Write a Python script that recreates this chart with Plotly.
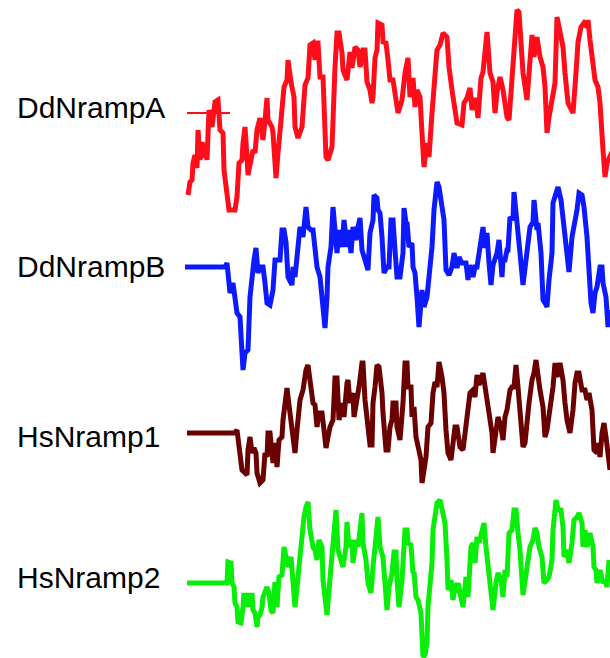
import plotly.graph_objects as go

# ---------------- data (residue position, hydropathy score) ----------------
names = ["DdNrampA", "DdNrampB", "HsNramp1", "HsNramp2"]

a_x = [1, 3, 5, 6, 8, 10, 11, 13, 15, 16, 18, 20, 22, 25, 28, 31, 33, 36, 37, 40, 42, 48, 50, 52, 55, 56, 58, 60, 61,
       64, 66, 68, 70, 73, 76, 78, 80, 81, 85, 86, 89, 91, 95, 97, 100, 101, 104, 107, 108, 111, 115, 118, 121, 123,
       126, 128, 130, 131, 133, 136, 139, 141, 145, 146, 148, 150, 152, 155, 156, 160, 161, 163, 165, 168, 171, 173,
       176, 178, 180, 183, 185, 186, 188, 190, 191, 195, 196, 199, 201, 203, 206, 208, 211, 215, 218, 221, 223, 226,
       228, 230, 233, 235, 237, 240, 242, 245, 247, 250, 253, 256, 260, 262, 265, 268, 270, 275, 277, 280, 283, 285,
       287, 289, 291, 294, 296, 300, 303, 306, 308, 310, 313, 316, 320, 322, 325, 328, 330, 332, 335, 336, 340, 342,
       345, 347, 350, 353, 356, 358, 360, 362, 365, 368, 370, 373, 376, 378, 381, 383, 386, 389, 391, 394, 397, 400,
       401, 403, 406, 408, 411, 413, 416, 418, 420, 423, 426]
a_y = [-8.2, -6.9, -6.7, -5.0, -4.2, -5.5, -1.7, -4.7, -2.9, -4.5, -3.0, -4.7, 0.3, -1.4, 1.1, 1.3, -1.7, -2.0, -5.7,
       -8.7, -9.7, -9.7, -8.4, -5.0, -4.7, -3.0, -1.4, -4.4, -6.2, -4.7, -3.7, -4.0, -1.7, -0.5, -2.7, -0.7, 1.5, -0.7,
       -1.4, -2.0, -6.5, -4.0, 0.3, 2.6, 3.3, 5.3, 3.1, 1.6, -1.4, -2.5, -1.4, 2.8, 3.5, 6.8, 7.0, 5.3, 7.0, 7.0, 3.6,
       3.6, -4.4, -4.7, -3.4, 0.3, 4.6, 8.0, 8.0, 6.0, 4.3, 3.3, 4.6, 6.1, 4.5, 6.6, 6.3, 4.6, 6.3, 6.3, 3.1, 2.3, 1.0,
       1.6, 5.5, 6.3, 9.0, 8.8, 7.1, 7.0, 5.3, 3.3, 3.3, 1.8, 0.0, 1.3, 4.0, 5.5, 1.6, 3.5, 0.6, 2.3, 1.6, -2.0, -5.4,
       -3.0, -4.4, 0.0, 2.6, 6.3, 6.8, 8.0, 7.6, 4.6, 2.3, 0.0, -1.0, -1.2, 1.0, 1.5, 2.5, 0.3, 1.3, 1.3, -0.5, 3.5,
       4.1, 8.1, 4.0, 3.1, 0.0, 2.1, 3.6, 2.3, -0.4, -0.7, 3.0, 7.0, 10.3, 10.1, 5.3, 4.0, 1.3, 4.6, 7.8, 5.6, 7.6, 5.6,
       4.6, 2.6, -2.0, -0.4, 1.6, 3.0, 9.6, 8.0, 6.6, 4.0, 1.0, 0.6, 0.0, 4.0, 7.1, 8.6, 9.0, 8.6, 9.3, 7.3, 4.6, 3.3,
       2.6, 1.0, -3.7, -6.4, -5.0, -4.4, -3.7]

b_x = [-2, 38, 40, 41, 43, 46, 48, 50, 53, 56, 58, 61, 63, 66, 67, 69, 71, 73, 76, 78, 80, 83, 86, 88, 90, 93, 95, 97,
       99, 101, 105, 106, 108, 111, 113, 116, 117, 119, 121, 124, 126, 128, 130, 133, 136, 138, 140, 141, 144, 146,
       148, 150, 152, 155, 157, 160, 161, 164, 166, 169, 171, 173, 175, 177, 179, 181, 183, 186, 187, 190, 191, 193,
       195, 197, 200, 202, 204, 206, 208, 210, 213, 216, 217, 219, 220, 222, 225, 226, 228, 230, 232, 235, 237, 240,
       242, 245, 247, 250, 252, 255, 257, 259, 262, 265, 267, 270, 272, 275, 279, 281, 283, 286, 288, 290, 293, 296,
       298, 300, 302, 304, 306, 308, 310, 312, 315, 316, 318, 320, 321, 323, 326, 327, 329, 331, 333, 336, 338, 340,
       343, 346, 347, 350, 351, 354, 356, 358, 360, 362, 365, 366, 369, 371, 374, 376, 378, 380, 382, 385, 387, 390,
       392, 395, 397, 400, 402, 404, 406, 408, 410, 413, 415, 416, 419, 421, 423]
b_y = [0.0, 0.0, 0.4, -1.0, -2.6, -1.6, -3.0, -4.6, -5.0, -10.3, -8.6, -8.3, -3.0, 0.4, 0.7, 1.9, -0.6, 0.0, 0.0,
       -1.6, -3.6, -3.8, -2.3, 0.7, 0.7, 0.7, 3.7, 3.7, 2.5, -1.0, -1.8, 0.0, -1.0, 2.7, 4.0, 3.0, 4.7, 6.0, 4.0, 3.7,
       3.7, 1.7, 0.0, -1.0, -4.0, -6.1, -3.0, 0.0, 2.0, 6.0, 3.7, 1.4, 3.7, 2.0, 4.7, 2.0, 3.7, 1.4, 4.0, 2.7, 4.0,
       4.9, 1.7, 1.0, 0.0, -0.3, 3.4, 4.7, 7.2, 6.9, 5.7, 5.4, 3.0, -0.6, 0.0, 0.0, 4.7, 4.7, 1.7, -1.0, -1.0, 1.4,
       5.9, 4.4, 4.5, 2.0, 2.4, 0.0, -0.6, -3.0, -6.0, -2.3, -4.0, -3.0, -1.0, 2.0, 5.7, 8.5, 8.0, 6.0, 4.7, -0.3,
       -0.8, 0.0, 1.4, -0.1, 1.0, 0.4, 0.4, -1.3, 0.2, -1.0, 0.0, 0.0, 2.0, 4.0, 1.9, 3.4, 0.4, -1.8, 0.2, 0.7, 1.4,
       2.7, -1.0, 0.7, 0.7, 1.7, 1.7, 5.0, 4.7, 7.5, 5.0, 3.5, 1.4, -1.8, 0.0, 1.4, 4.0, 4.5, 6.7, 3.7, 4.4, 1.4,
       -3.3, -3.6, -4.0, -1.3, 1.4, 6.4, 7.4, 8.0, 6.7, 4.7, 3.0, 0.4, -0.5, 3.0, 4.0, 5.7, 7.4, 7.2, 6.0, 3.0, -0.3,
       -3.6, -4.6, -2.6, -2.0, 0.0, 0.0, -1.6, -3.0, -6.0, -4.3]

c_x = [0, 48, 50, 53, 55, 57, 60, 61, 63, 65, 67, 69, 70, 73, 76, 78, 80, 81, 83, 85, 86, 88, 90, 92, 95, 96, 98, 100,
       101, 104, 106, 108, 110, 111, 113, 116, 117, 119, 121, 124, 126, 128, 130, 132, 135, 137, 139, 141, 143, 146,
       148, 150, 152, 155, 157, 160, 161, 163, 166, 167, 170, 172, 175, 176, 178, 180, 183, 185, 186, 188, 190, 192,
       195, 196, 199, 201, 203, 205, 206, 209, 210, 213, 215, 216, 218, 220, 221, 224, 225, 227, 229, 231, 234, 235,
       237, 239, 241, 244, 246, 248, 250, 252, 255, 257, 259, 261, 264, 266, 268, 270, 273, 276, 278, 280, 281, 283,
       286, 288, 290, 292, 296, 298, 300, 302, 305, 306, 309, 311, 314, 316, 318, 320, 323, 325, 327, 329, 331, 333,
       336, 338, 340, 342, 345, 347, 349, 351, 353, 356, 358, 360, 362, 366, 368, 370, 373, 376, 378, 380, 383, 386,
       388, 390, 392, 395, 398, 400, 402, 405, 407, 410, 411, 413, 415, 417, 419, 421, 423]
c_y = [0.0, 0.0, 0.3, -1.7, -3.7, -3.9, -4.2, -1.7, -0.4, -2.0, -1.5, -2.0, -4.0, -5.0, -4.7, -2.0, -2.4, 0.0, 0.0,
       -2.0, -3.0, -1.0, -3.4, -0.7, -0.4, 1.3, 3.0, 4.5, 3.6, 1.3, 0.3, -2.0, 0.3, 2.0, 3.3, 4.3, 5.3, 6.3, 6.8, 4.6,
       3.0, 2.8, 0.6, 2.0, 2.0, 0.3, -1.5, -0.4, 0.6, 1.3, 5.5, 5.5, 1.3, 3.0, 1.6, 5.0, 5.3, 3.0, 4.0, 1.6, 3.3, 4.6,
       7.0, 7.0, 3.3, 1.3, -1.2, -1.2, 3.0, 4.6, 6.8, 6.6, 4.0, 2.0, -1.7, -1.7, 0.6, 1.3, 3.0, 3.0, 0.6, -0.7, 1.3,
       3.0, 7.0, 7.0, 4.6, 4.6, 1.6, 2.6, -0.4, -1.4, -2.7, -5.0, -4.0, -2.4, 0.6, 1.0, 4.0, 5.1, 4.6, 7.1, 5.6, 4.0,
       0.3, -2.0, -2.7, -1.0, 0.6, 0.6, -1.4, -1.7, 0.0, 2.0, 2.6, 4.0, 4.3, 3.6, 5.8, 4.8, 6.0, 4.6, 3.0, 1.3, 0.0,
       -2.0, 0.6, 1.6, 0.6, -0.7, 1.6, 2.3, 4.3, 4.6, 4.6, 6.8, 4.6, 1.6, -1.4, -1.0, 1.3, 3.0, 5.3, 6.0, 7.3, 5.6,
       4.3, 2.6, -0.4, 0.3, 1.6, 4.6, 7.0, 5.6, 7.0, 5.3, 3.0, 1.3, 0.0, 2.3, 5.0, 6.0, 6.0, 4.3, 4.3, 3.3, 4.0, 2.3,
       -1.7, -2.0, -1.0, -2.4, 0.0, 1.0, -0.4, -2.7, -3.7]

d_x = [0, 40, 41, 44, 45, 47, 48, 50, 51, 54, 56, 57, 59, 61, 63, 65, 66, 68, 70, 71, 73, 75, 76, 78, 80, 82, 84, 86,
       88, 90, 92, 95, 97, 99, 101, 104, 106, 108, 110, 112, 115, 117, 119, 121, 123, 126, 128, 130, 132, 135, 136,
       139, 140, 142, 145, 147, 149, 151, 154, 156, 159, 160, 162, 165, 166, 169, 171, 173, 175, 176, 179, 181, 184,
       186, 188, 190, 191, 193, 196, 198, 200, 202, 205, 207, 209, 210, 212, 215, 216, 218, 220, 221, 224, 226, 227,
       229, 231, 234, 236, 238, 240, 241, 243, 245, 246, 248, 250, 253, 256, 258, 260, 261, 264, 266, 268, 270, 271,
       274, 276, 279, 281, 284, 286, 288, 290, 292, 295, 297, 299, 301, 303, 306, 309, 311, 314, 316, 318, 320, 322,
       325, 327, 329, 331, 333, 336, 338, 340, 343, 346, 348, 350, 352, 355, 357, 360, 362, 365, 366, 369, 371, 374,
       376, 377, 380, 382, 385, 387, 390, 392, 395, 396, 398, 400, 403, 406, 407, 409, 410, 413, 416, 418, 420, 422]
d_y = [0.0, 0.0, 2.1, 2.0, 0.0, -0.4, -2.0, -2.4, -3.9, -4.0, -2.4, -1.0, -2.4, -1.0, -2.4, -1.0, -2.7, -3.0, -4.4,
       -3.4, -3.2, -2.4, -1.4, -0.7, -0.4, -1.0, -2.7, -3.0, 0.1, -2.4, 0.6, 0.8, 3.6, 2.6, 1.6, 2.6, 0.0, -2.4, -0.4,
       1.6, 5.3, 6.6, 7.6, 8.1, 5.3, 3.6, 3.3, 2.3, 4.3, 3.6, 0.3, -1.7, -3.2, -0.7, 2.6, 5.3, 7.3, 3.3, 2.0, 1.6,
       3.6, 6.1, 3.6, 4.3, 2.0, 4.3, 3.6, 5.3, 7.0, 4.0, 2.3, 0.0, -1.0, 1.6, 4.0, 6.6, 6.6, 3.6, 2.6, 0.0, -2.7,
       -0.4, 1.0, 3.1, 3.1, 0.3, -2.4, 0.3, 3.0, 5.3, 5.3, 4.0, 3.8, 1.0, 1.1, -1.4, -1.7, -3.0, -7.4, -7.2, -6.0,
       -2.4, -0.4, 2.0, 5.3, 6.6, 8.0, 8.3, 6.6, 6.0, 2.3, -0.7, 0.3, -1.7, 0.0, -1.0, 0.0, -1.7, -2.4, 0.6, -1.4,
       3.6, 4.0, 2.0, 4.6, 4.0, 5.0, 6.0, 3.6, 2.0, 0.0, -2.7, 0.0, 1.0, 0.3, -1.4, 1.3, 0.6, 5.0, 5.3, 7.3, 7.3, 5.0,
       3.3, -1.2, 0.3, 1.3, 3.6, 4.3, 5.5, 5.0, 3.6, 2.6, 0.0, 0.3, 0.6, 2.3, 5.3, 8.3, 7.3, 7.3, 5.6, 2.6, 3.3, 2.0,
       4.0, 6.3, 6.6, 7.0, 6.0, 3.6, 5.3, 3.6, 5.0, 3.6, 1.6, 1.3, 0.0, 1.3, 0.0, 0.3, -0.4, 2.3]

# short reference mark next to the first label (residue span, score)
ref_x = [0, 43]
ref_y = [0.0, 0.0]

# ---------------- styling / layout ----------------
colors = ["#ff0d1a", "#0d1aff", "#6b0000", "#08ee08"]
offsets = [-11.3, -26.7, -43.3, -58.3]      # vertical stacking of the profiles
label_px = [107, 266, 436, 577]             # label centre heights (px from top)
W, H = 610, 658

series = [(a_x, a_y), (b_x, b_y), (c_x, c_y), (d_x, d_y)]

fig = go.Figure()
fig.add_trace(go.Scatter(x=ref_x, y=[v + offsets[0] for v in ref_y], mode="lines",
                         line=dict(color=colors[0], width=2), hoverinfo="skip", showlegend=False))
for (xs, ys), col, off, nm in zip(series, colors, offsets, names):
    fig.add_trace(go.Scatter(x=xs, y=[v + off for v in ys], mode="lines", name=nm,
                             line=dict(color=col, width=5), showlegend=False))

for nm, ypx in zip(names, label_px):
    fig.add_annotation(text=nm, xref="paper", yref="paper", x=14.5 / W, y=1 - ypx / H,
                       xanchor="left", yanchor="middle", showarrow=False,
                       font=dict(family="Liberation Sans, Arial, sans-serif", size=30, color="#000000"))

fig.update_layout(
    width=W, height=H, margin=dict(l=0, r=0, t=0, b=0),
    paper_bgcolor="white", plot_bgcolor="white",
    xaxis=dict(visible=False, range=[-187, 423], fixedrange=True),
    yaxis=dict(visible=False, range=[-65.8, 0], fixedrange=True),
)

fig.write_html("out.html")
